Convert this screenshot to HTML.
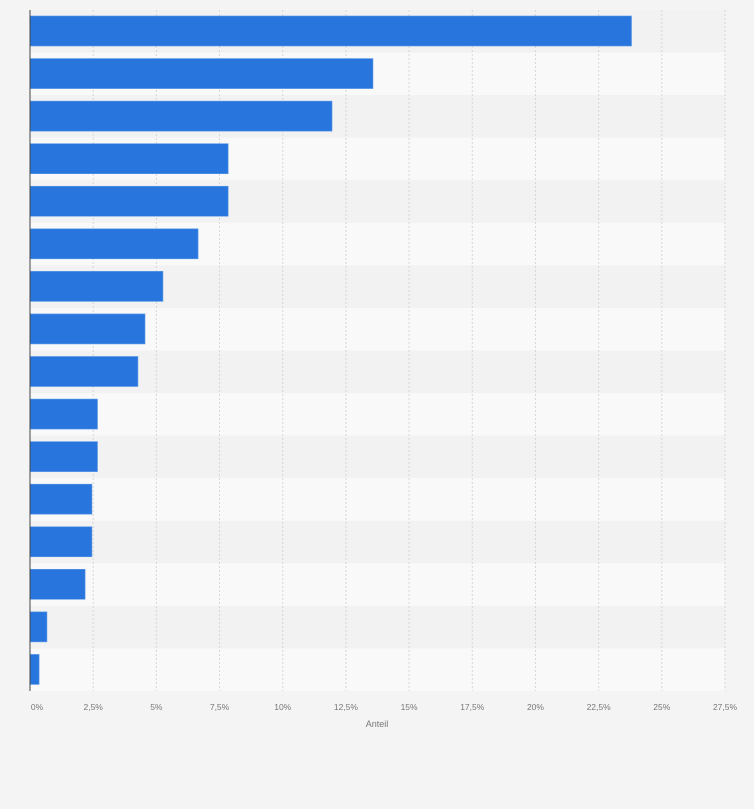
<!DOCTYPE html>
<html><head><meta charset="utf-8"><style>
html,body{margin:0;padding:0;background:#f4f4f4;}
svg{display:block;font-family:"Liberation Sans",sans-serif;}
</style></head><body>
<svg id="chart" width="754" height="809" viewBox="0 0 754 809" xmlns="http://www.w3.org/2000/svg">
<rect x="0" y="0" width="754" height="809" fill="#f4f4f4"/>
<g id="stripes"></g><g id="grid"></g><g id="bars"></g><g id="ticks"></g>
<line x1="30" y1="10" x2="30" y2="691" stroke="#444" stroke-width="1"/>
<text x="377" y="727" font-size="9" fill="#777" text-anchor="middle">Anteil</text>
</svg>
<script>
const categories=["K1","K2","K3","K4","K5","K6","K7","K8","K9","K10","K11","K12","K13","K14","K15","K16"];
const values=[23.8,13.57,11.95,7.84,7.84,6.65,5.26,4.55,4.27,2.67,2.67,2.45,2.45,2.18,0.67,0.36];
const tickValues=[0,2.5,5,7.5,10,12.5,15,17.5,20,22.5,25,27.5];
const tickLabels=["0%","2,5%","5%","7,5%","10%","12,5%","15%","17,5%","20%","22,5%","25%","27,5%"];
const NS="http://www.w3.org/2000/svg";
const plotX0=30,plotX1=725,xMax=27.5,plotTop=10,plotBottom=691;
const xs=v=>plotX0+(v/xMax)*(plotX1-plotX0);
const rowH=(plotBottom-plotTop)/categories.length;
const ys=i=>plotTop+i*rowH;
function mk(t,a){const e=document.createElementNS(NS,t);for(const k in a)e.setAttribute(k,a[k]);return e;}
const st=document.getElementById('stripes'),gr=document.getElementById('grid'),br=document.getElementById('bars'),tk=document.getElementById('ticks');
categories.forEach((c,i)=>{
  const r=mk('rect',{x:plotX0,y:ys(i),width:plotX1-plotX0,height:rowH,fill:i%2?'#f9f9f9':'#f2f2f2'});
  
  
  st.appendChild(r);
});
tickValues.forEach((v,i)=>{
  if(v>0){const l=mk('line',{x1:xs(v),y1:plotTop,x2:xs(v),y2:plotBottom,stroke:'#d6d6d6','stroke-dasharray':'2,2','stroke-width':1});
  
  
  gr.appendChild(l);}
  const t=mk('text',{x:xs(v)+(i==0?7:0),y:710,'font-size':8.5,fill:'#777','text-anchor':'middle'});
  t.textContent=tickLabels[i];
  
  
  tk.appendChild(t);
});
values.forEach((v,i)=>{
  const b=mk('rect',{x:plotX0,y:ys(i)+6,width:xs(v)-plotX0,height:30,fill:'#2876dd',stroke:'#5a97e6','stroke-width':0.6});
  
  
  br.appendChild(b);
});
</script>
</body></html>
